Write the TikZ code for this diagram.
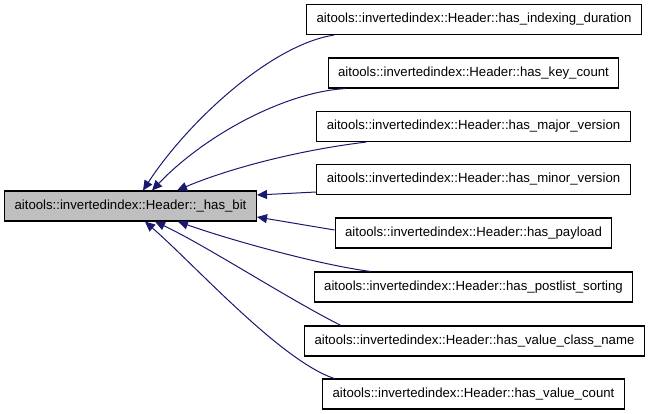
\documentclass[tikz,border=0pt]{standalone}
\usepackage{fontspec}
\setmainfont{Liberation Sans}
\usetikzlibrary{arrows.meta,calc}
\definecolor{edgeblue}{HTML}{191970}
\definecolor{rootgray}{HTML}{BFBFBF}

\begin{document}
\begin{tikzpicture}[x=1pt, y=-1pt,
  fn/.style={rectangle, draw, line width=1.1pt, fill=white, inner xsep=10pt,
             minimum height=30pt, font=\fontsize{13.2}{15}\selectfont},
  rootfn/.style={fn, fill=rootgray},
  call/.style={edgeblue, line width=1pt, -{Triangle[length=10pt, width=9pt]}}
]
\useasboundingbox (0,0) rectangle (648,413);

\node[rootfn] (root) at (130.5,206) {aitools::invertedindex::Header::\_has\_bit};

\node[fn] (n1) at (474,19.5)   {aitools::invertedindex::Header::has\_indexing\_duration};
\node[fn] (n2) at (473.5,73)   {aitools::invertedindex::Header::has\_key\_count};
\node[fn] (n3) at (473.5,126.5) {aitools::invertedindex::Header::has\_major\_version};
\node[fn] (n4) at (473.5,179.5) {aitools::invertedindex::Header::has\_minor\_version};
\node[fn] (n5) at (473.5,233)  {aitools::invertedindex::Header::has\_payload};
\node[fn] (n6) at (473.5,287)  {aitools::invertedindex::Header::has\_postlist\_sorting};
\node[fn] (n7) at (474.5,341)  {aitools::invertedindex::Header::has\_value\_class\_name};
\node[fn] (n8) at (473.5,394)  {aitools::invertedindex::Header::has\_value\_count};

% callers -> _has_bit
\draw[call] ($(n1.south west)+(28,0)$) .. controls (270,45) and (187,123) .. ($(root.north)+(12.5,0)$);
\draw[call] ($(n2.south west)+(18,0)$) .. controls (285,92) and (205,135) .. ($(root.north)+(21.5,0)$);
\draw[call] ($(n3.south west)+(50,0)$) .. controls (300,150) and (230,168) .. ($(root.north)+(46.5,0)$);
\draw[call] ($(n4.west)+(0,12.5)$) -- ($(root.east)+(0,-11)$);
\draw[call] ($(n5.west)+(0,-3)$) -- ($(root.east)+(0,11)$);
\draw[call] ($(n6.north west)+(57,0)$) .. controls (320,265) and (230,240) .. ($(root.south)+(47.5,0)$);
\draw[call] ($(n7.north west)+(37,0)$) .. controls (290,300) and (205,245) .. ($(root.south)+(24.5,0)$);
\draw[call] ($(n8.north west)+(12,0)$) .. controls (280,360) and (195,265) .. ($(root.south)+(14.5,0)$);

\end{tikzpicture}
\end{document}
